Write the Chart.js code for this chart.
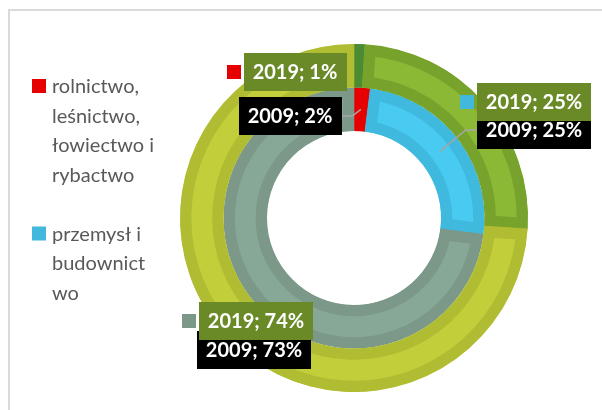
<!DOCTYPE html>
<html>
<head>
<meta charset="utf-8">
<script src="https://cdn.jsdelivr.net/npm/chart.js@4/dist/chart.umd.min.js"></script>
<style>
    body { margin: 0; background: #fff; }
    #wrap { position: relative; width: 602px; height: 410px; overflow: hidden; }
    #frame { position: absolute; left: 8px; top: 9px; width: 700px; height: 500px;
             border-left: 2px solid #d9d9d9; border-top: 2px solid #d9d9d9; }
    #box { position: absolute; left: 0; top: 0; width: 602px; height: 410px; }
</style>
</head>
<body>
<div id="wrap">
    <div id="frame"></div>
    <div id="box"><canvas id="sectorChart"></canvas></div>
</div>
<script>
// dane
const categories = ['rolnictwo, leśnictwo, łowiectwo i rybactwo', 'przemysł i budownictwo', 'usługi'];
const legendLines = [['rolnictwo,', 'leśnictwo,', 'łowiectwo i', 'rybactwo'], ['przemysł i', 'budownict', 'wo'], ['usługi']];
const years = ['2019', '2009'];
const values2019 = [1, 25, 74];
const values2009 = [2, 25, 73];

// kolory
const keyColors = ['#e60000', '#41b8dc', '#7b9889'];
const outerFill = ['#4b8b32', '#8bb935', '#c2cf3b'];
const outerEdge = ['#4b8b32', '#77a22c', '#b0bc31'];
const innerFill = ['#e60000', '#48caf1', '#87a897'];
const innerEdge = ['#e60000', '#3fb9de', '#7b9889'];

// położenie etykiet względem środka wykresu
const labelPos2019 = [[-59, -146], [180, -116], [-98, 103]];
const labelPos2009 = [[-64, -102], [180, -88], [-100, 132]];
const leader2009 = [true, true, false];

const labelFont = 'bold 20px Lato';
const legendFont = '20px Lato';

function drawBox(ctx, text, cx, cy, bg) {
    ctx.font = labelFont;
    const w = ctx.measureText(text).width + 18;
    const h = 38;
    ctx.fillStyle = bg;
    ctx.fillRect(Math.round(cx - w / 2), Math.round(cy - h / 2), Math.round(w), h);
    ctx.fillStyle = '#ffffff';
    ctx.textAlign = 'center';
    ctx.textBaseline = 'middle';
    ctx.fillText(text, cx, cy + 1);
    return w;
}

const boxLabels = {
    id: 'boxLabels',
    afterDatasetsDraw(chart) {
        const ctx = chart.ctx;
        const outer = chart.getDatasetMeta(0).data;
        const inner = chart.getDatasetMeta(1).data;
        const cx = outer[0].x;
        const cy = outer[0].y;
        ctx.save();

        // 2009 - linie odniesienia
        ctx.strokeStyle = '#a6a6a6';
        ctx.lineWidth = 1.5;
        values2009.forEach((v, i) => {
            if (!leader2009[i]) return;
            ctx.font = labelFont;
            const w = ctx.measureText(years[1] + '; ' + v + '%').width + 18;
            const bx = cx + labelPos2009[i][0];
            const by = cy + labelPos2009[i][1];
            const p = inner[i].getCenterPoint();
            const dir = p.x > bx ? 1 : -1;
            const sx = bx + dir * w / 2;
            ctx.beginPath();
            ctx.moveTo(sx, by);
            ctx.lineTo(sx + dir * 11, by);
            ctx.lineTo(p.x, p.y);
            ctx.stroke();
        });

        values2009.forEach((v, i) => {
            drawBox(ctx, years[1] + '; ' + v + '%', cx + labelPos2009[i][0], cy + labelPos2009[i][1], '#000000');
        });

        values2019.forEach((v, i) => {
            const bx = cx + labelPos2019[i][0];
            const by = cy + labelPos2019[i][1];
            const w = drawBox(ctx, years[0] + '; ' + v + '%', bx, by, '#6a8a28');
            ctx.fillStyle = keyColors[i];
            ctx.fillRect(Math.round(bx - w / 2 - 17), Math.round(by - 7), 14, 14);
        });
        ctx.restore();
    }
};

const sideLegend = {
    id: 'sideLegend',
    afterDraw(chart) {
        const ctx = chart.ctx;
        const lineH = 29.5;
        const limit = 320;
        let base = 93;
        ctx.save();
        ctx.font = legendFont;
        ctx.textAlign = 'left';
        ctx.textBaseline = 'alphabetic';
        for (let i = 0; i < categories.length; i++) {
            const lines = legendLines[i];
            if (base + (lines.length - 1) * lineH > limit) break;
            ctx.fillStyle = keyColors[i];
            ctx.fillRect(32, base - 14, 14, 14);
            ctx.fillStyle = '#595959';
            lines.forEach((t, k) => ctx.fillText(t, 52, base + k * lineH));
            base += (lines.length + 1) * lineH;
        }
        ctx.restore();
    }
};

const ctx = document.getElementById('sectorChart').getContext('2d');
new Chart(ctx, {
    type: 'doughnut',
    data: {
        labels: categories,
        datasets: [{
            label: years[0],
            data: values2019,
            backgroundColor: outerFill,
            borderColor: outerEdge,
            borderWidth: 11,
            borderAlign: 'inner',
            borderJoinStyle: 'miter'
        }, {
            label: years[1],
            data: values2009,
            backgroundColor: innerFill,
            borderColor: innerEdge,
            borderWidth: 11,
            borderAlign: 'inner',
            borderJoinStyle: 'miter'
        }]
    },
    options: {
        responsive: true,
        maintainAspectRatio: false,
        animation: false,
        events: [],
        cutout: '50%',
        layout: {
            padding: { left: 180, right: 74, top: 44, bottom: 18 }
        },
        plugins: {
            legend: { display: false },
            tooltip: { enabled: false }
        }
    },
    plugins: [boxLabels, sideLegend]
});
</script>
</body>
</html>
